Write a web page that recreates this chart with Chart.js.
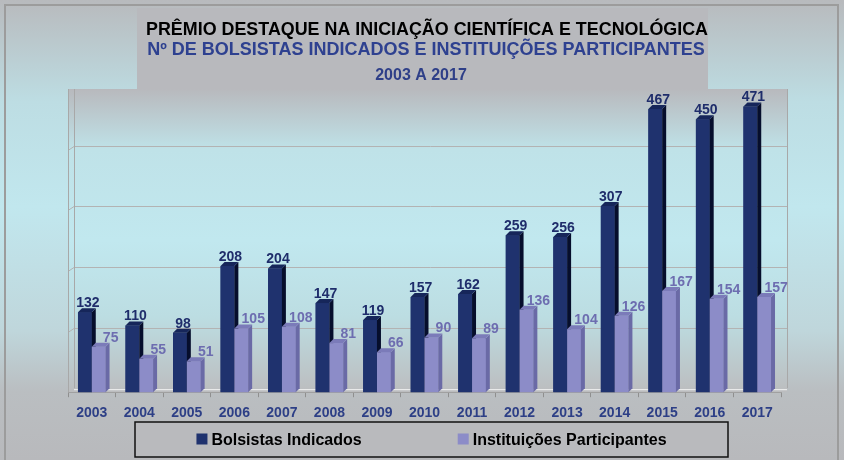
<!DOCTYPE html>
<html>
<head>
<meta charset="utf-8">
<script src="https://cdn.jsdelivr.net/npm/chart.js@4.4.1/dist/chart.umd.min.js"></script>
<style>
  html, body { margin: 0; padding: 0; background: #b9bcbf; }
  #wrap { width: 844px; height: 460px; }
</style>
</head>
<body>
<div id="wrap"><canvas id="grafico" width="844" height="460"></canvas></div>
<script>
// dados
const anos = ["2003", "2004", "2005", "2006", "2007", "2008", "2009", "2010", "2011", "2012", "2013", "2014", "2015", "2016", "2017"];
const bolsistas = [132, 110, 98, 208, 204, 147, 119, 157, 162, 259, 256, 307, 467, 450, 471];
const instituicoes = [75, 55, 51, 105, 108, 81, 66, 90, 89, 136, 104, 126, 167, 154, 157];
const escalaY = [0, 100, 200, 300, 400, 500];

const titulo1 = "PRÊMIO DESTAQUE NA INICIAÇÃO CIENTÍFICA E TECNOLÓGICA";
const titulo2 = "Nº DE BOLSISTAS INDICADOS E INSTITUIÇÕES PARTICIPANTES";
const titulo3 = "2003 A 2017";

const cores = {
  bolsa: { frente: "#1f326e", lado: "#060e2c", topo: "#16265a", texto: "#1f2d6b" },
  inst: { frente: "#8c8cc8", lado: "#6a6aa6", topo: "#7b7bb9", texto: "#6d6db0" }
};
const fonte = "'Liberation Sans', Arial, sans-serif";
const DX = 4, DY = 4;

// fundo, bloco do titulo, area do grafico e grade
const fundo = {
  id: "fundo",
  beforeDraw(chart) {
    const ctx = chart.ctx;
    const a = chart.chartArea;
    ctx.save();
    let g = ctx.createLinearGradient(0, 0, 0, 460);
    g.addColorStop(0, "#b8babd");
    g.addColorStop(0.22, "#bddde3");
    g.addColorStop(0.45, "#c1e7ee");
    g.addColorStop(0.72, "#bfd6db");
    g.addColorStop(0.85, "#babec1");
    g.addColorStop(1, "#b8b9bc");
    ctx.fillStyle = g;
    ctx.fillRect(0, 0, 844, 460);

    // bloco cinza do titulo
    ctx.fillStyle = "#b8b9bd";
    ctx.fillRect(137, 8, 571, a.top - 8);

    // area do grafico
    g = ctx.createLinearGradient(0, a.top, 0, a.bottom);
    g.addColorStop(0, "#b8b9bd");
    g.addColorStop(0.2, "#bfe2e8");
    g.addColorStop(0.5, "#c1e8ef");
    g.addColorStop(0.75, "#bcdde2");
    g.addColorStop(1, "#bcbdbf");
    ctx.fillStyle = g;
    ctx.fillRect(a.left, a.top, a.right - a.left + 6, a.bottom - a.top);

    // grade (parede de fundo deslocada)
    const y = chart.scales.y;
    ctx.strokeStyle = "#b3b3b3";
    ctx.lineWidth = 1;
    escalaY.forEach((v) => {
      if (v === 0 || v === 500) return;
      const py = Math.round(y.getPixelForValue(v) - DY) + 0.5;
      ctx.beginPath();
      ctx.moveTo(a.left + 6, py);
      ctx.lineTo(a.right + 6, py);
      ctx.stroke();
      ctx.beginPath();
      ctx.moveTo(a.left, py + DY);
      ctx.lineTo(a.left + 6, py);
      ctx.stroke();
    });
    // paredes
    ctx.strokeStyle = "#a8a8a8";
    ctx.beginPath();
    ctx.moveTo(a.left + 0.5, a.top);
    ctx.lineTo(a.left + 0.5, a.bottom);
    ctx.moveTo(a.left + 6.5, a.top);
    ctx.lineTo(a.left + 6.5, a.bottom - DY);
    ctx.moveTo(a.right + 6.5, a.top);
    ctx.lineTo(a.right + 6.5, a.bottom - DY);
    ctx.stroke();
    // piso
    ctx.strokeStyle = "#f4f4f4";
    ctx.beginPath();
    ctx.moveTo(a.left + 6, a.bottom - 2.5);
    ctx.lineTo(a.right + 6, a.bottom - 2.5);
    ctx.stroke();
    ctx.restore();
  },
  afterDraw(chart) {
    const ctx = chart.ctx;
    ctx.save();
    // titulos
    ctx.textAlign = "center";
    ctx.textBaseline = "middle";
    ctx.fillStyle = "#000000";
    ctx.font = "bold 18px " + fonte;
    ctx.fillText(titulo1, 427, 30, 562);
    ctx.fillStyle = "#2e4190";
    ctx.fillText(titulo2, 426, 50, 560);
    ctx.font = "bold 16px " + fonte;
    ctx.fillStyle = "#2e3f88";
    ctx.fillText(titulo3, 421, 76);

    // legenda
    const lx = 135, ly = 422, lw = 593, lh = 35;
    ctx.fillStyle = "#b9babd";
    ctx.fillRect(lx, ly, lw, lh);
    ctx.strokeStyle = "#111111";
    ctx.lineWidth = 1.5;
    ctx.strokeRect(lx, ly, lw, lh);
    ctx.font = "bold 16px " + fonte;
    ctx.textAlign = "left";
    const itens = chart.data.datasets.map((d) => ({ txt: d.label, cor: d.backgroundColor }));
    const larg = itens.map((it) => 15 + ctx.measureText(it.txt).width);
    const gap = 96;
    let x = lx + (lw - (larg[0] + larg[1] + gap)) / 2;
    const cy = ly + lh / 2;
    itens.forEach((it, i) => {
      ctx.fillStyle = it.cor;
      ctx.fillRect(x, cy - 6, 11, 11);
      ctx.fillStyle = "#000000";
      ctx.fillText(it.txt, x + 15, cy + 1);
      x += larg[i] + gap;
    });

    // moldura
    ctx.strokeStyle = "#9c9c9c";
    ctx.lineWidth = 2;
    ctx.strokeRect(5, 5, 833, 470);
    ctx.restore();
  }
};

// barras em 3D e rotulos
const barras3d = {
  id: "barras3d",
  afterDatasetsDraw(chart) {
    const ctx = chart.ctx;
    const m0 = chart.getDatasetMeta(0);
    const m1 = chart.getDatasetMeta(1);
    ctx.save();
    function desenha(bar, c) {
      const p = bar.getProps(["x", "y", "base", "width"], true);
      const l = p.x - p.width / 2, r = p.x + p.width / 2;
      ctx.fillStyle = c.frente;
      ctx.fillRect(l, p.y, p.width, p.base - p.y);
      ctx.fillStyle = c.lado;
      ctx.beginPath();
      ctx.moveTo(r, p.y);
      ctx.lineTo(r + DX, p.y - DY);
      ctx.lineTo(r + DX, p.base - DY);
      ctx.lineTo(r, p.base);
      ctx.closePath();
      ctx.fill();
      ctx.fillStyle = c.topo;
      ctx.beginPath();
      ctx.moveTo(l, p.y);
      ctx.lineTo(l + DX, p.y - DY);
      ctx.lineTo(r + DX, p.y - DY);
      ctx.lineTo(r, p.y);
      ctx.closePath();
      ctx.fill();
    }
    for (let i = 0; i < anos.length; i++) {
      desenha(m0.data[i], cores.bolsa);
      desenha(m1.data[i], cores.inst);
    }
    ctx.font = "bold 14px " + fonte;
    ctx.textAlign = "center";
    ctx.textBaseline = "bottom";
    for (let i = 0; i < anos.length; i++) {
      const b = m0.data[i], s = m1.data[i];
      ctx.fillStyle = cores.bolsa.texto;
      ctx.fillText(bolsistas[i], b.x + 3, b.y - 2);
      ctx.fillStyle = cores.inst.texto;
      ctx.fillText(instituicoes[i], s.x + 12, s.y - 2);
    }
    ctx.restore();
  }
};

var ctx = document.getElementById("grafico").getContext("2d");
var chart = new Chart(ctx, {
  type: "bar",
  data: {
    labels: anos,
    datasets: [
      {
        label: "Bolsistas Indicados",
        data: bolsistas,
        backgroundColor: cores.bolsa.frente,
        barPercentage: 1,
        categoryPercentage: 0.58
      },
      {
        label: "Instituições Participantes",
        data: instituicoes,
        backgroundColor: cores.inst.frente,
        barPercentage: 1,
        categoryPercentage: 0.58
      }
    ]
  },
  options: {
    responsive: false,
    animation: false,
    layout: { padding: { top: 89, left: 68, right: 63, bottom: 30 } },
    plugins: {
      legend: { display: false },
      title: { display: false },
      tooltip: { enabled: false }
    },
    scales: {
      x: {
        offset: true,
        grid: { display: true, drawOnChartArea: false, color: "#8f8f8f", tickLength: 5, offset: true },
        border: { display: true, color: "#a0a0a0" },
        ticks: {
          color: "#2d3f86",
          padding: 8,
          font: { family: fonte, size: 14, weight: "bold" }
        }
      },
      y: {
        display: false,
        min: escalaY[0],
        max: escalaY[escalaY.length - 1],
        ticks: { stepSize: 100 }
      }
    }
  },
  plugins: [fundo, barras3d]
});
</script>
</body>
</html>
